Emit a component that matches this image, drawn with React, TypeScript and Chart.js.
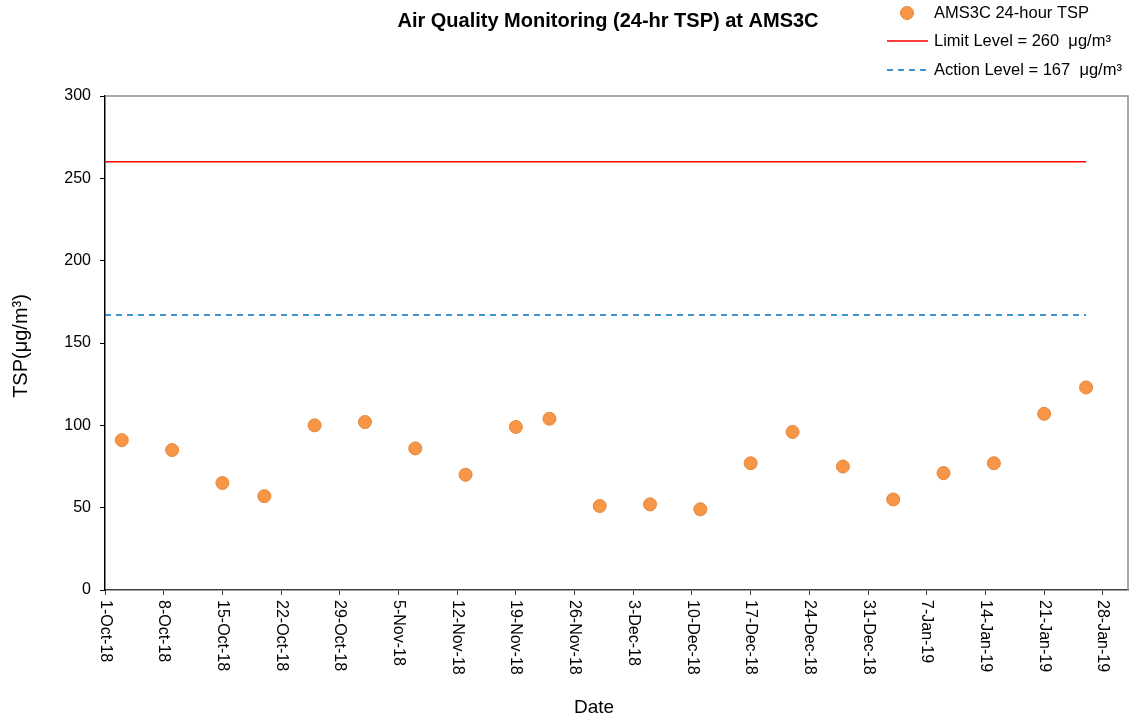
import React, { useEffect, useRef } from "react";
import { Chart, registerables } from "chart.js";

Chart.register(...registerables);

const chartTitle = "Air Quality Monitoring (24-hr TSP) at AMS3C";
const startDate = "2018-10-01";
const endDate = "2019-01-31";
const sampleDates = [
  "2018-10-03", "2018-10-09", "2018-10-15", "2018-10-20", "2018-10-26",
  "2018-11-01", "2018-11-07", "2018-11-13", "2018-11-19", "2018-11-23",
  "2018-11-29", "2018-12-05", "2018-12-11", "2018-12-17", "2018-12-22",
  "2018-12-28", "2019-01-03", "2019-01-09", "2019-01-15", "2019-01-21",
  "2019-01-26",
];
const tspValues = [91, 85, 65, 57, 100, 102, 86, 70, 99, 104, 51, 52, 49, 77, 96, 75, 55, 71, 77, 107, 123];
const tickDates = [
  "2018-10-01", "2018-10-08", "2018-10-15", "2018-10-22", "2018-10-29",
  "2018-11-05", "2018-11-12", "2018-11-19", "2018-11-26", "2018-12-03",
  "2018-12-10", "2018-12-17", "2018-12-24", "2018-12-31", "2019-01-07",
  "2019-01-14", "2019-01-21", "2019-01-28",
];
const tickLabels = [
  "1-Oct-18", "8-Oct-18", "15-Oct-18", "22-Oct-18", "29-Oct-18",
  "5-Nov-18", "12-Nov-18", "19-Nov-18", "26-Nov-18", "3-Dec-18",
  "10-Dec-18", "17-Dec-18", "24-Dec-18", "31-Dec-18", "7-Jan-19",
  "14-Jan-19", "21-Jan-19", "28-Jan-19",
];
const limitLevel = 260;
const actionLevel = 167;
const seriesLabels = ["AMS3C 24-hour TSP", "Limit Level = 260  μg/m³", "Action Level = 167  μg/m³"];

const dayOf = (s: string) => {
  const [y, m, d] = s.split("-").map(Number);
  const [y0, m0, d0] = startDate.split("-").map(Number);
  return Math.round((Date.UTC(y, m - 1, d) - Date.UTC(y0, m0 - 1, d0)) / 86400000);
};

const FONT = "Arial, 'Liberation Sans', sans-serif";

export default function App() {
  const ref = useRef<HTMLCanvasElement | null>(null);
  useEffect(() => {
    const canvas = ref.current!;
    const points = sampleDates.map((d, i) => ({ x: dayOf(d), y: tspValues[i] }));
    const lineStart = dayOf(startDate);
    const lineEnd = dayOf(sampleDates[sampleDates.length - 1]);
    const tickDays = tickDates.map(dayOf);

    const decor = {
      id: "decor",
      afterDraw(chart: any) {
        const ctx = chart.ctx as CanvasRenderingContext2D;
        const ca = chart.chartArea;
        const xs = chart.scales.x;
        ctx.save();
        // top and right border
        ctx.strokeStyle = "#8c8c8c";
        ctx.lineWidth = 1.5;
        ctx.beginPath();
        ctx.moveTo(ca.left, ca.top);
        ctx.lineTo(ca.right, ca.top);
        ctx.lineTo(ca.right, ca.bottom);
        ctx.stroke();
        // x tick labels rotated clockwise
        ctx.fillStyle = "#000";
        ctx.font = `16px ${FONT}`;
        ctx.textAlign = "left";
        ctx.textBaseline = "middle";
        tickDays.forEach((d, i) => {
          const px = xs.getPixelForValue(d);
          ctx.save();
          ctx.translate(px, ca.bottom + 10);
          ctx.rotate(Math.PI / 2);
          ctx.fillText(tickLabels[i], 0, 0);
          ctx.restore();
        });
        // axis titles
        ctx.font = `19px ${FONT}`;
        ctx.textAlign = "center";
        ctx.fillText("Date", 594, 708);
        ctx.save();
        ctx.translate(21, 346);
        ctx.rotate(-Math.PI / 2);
        ctx.font = `20px ${FONT}`;
        ctx.fillText("TSP(μg/m³)", 0, 0);
        ctx.restore();
        // title
        ctx.font = `bold 20px ${FONT}`;
        ctx.fillText(chartTitle, 608, 21);
        // legend
        ctx.font = `16.5px ${FONT}`;
        ctx.textAlign = "left";
        ctx.beginPath();
        ctx.arc(907, 13, 6.5, 0, Math.PI * 2);
        ctx.fillStyle = "#F79646";
        ctx.fill();
        ctx.strokeStyle = "#E5863A";
        ctx.lineWidth = 1;
        ctx.stroke();
        ctx.fillStyle = "#000";
        ctx.fillText(seriesLabels[0], 934, 13);
        ctx.strokeStyle = "#FF0000";
        ctx.lineWidth = 1.5;
        ctx.beginPath();
        ctx.moveTo(887, 41);
        ctx.lineTo(928, 41);
        ctx.stroke();
        ctx.fillText(seriesLabels[1], 934, 41);
        ctx.strokeStyle = "#0070C0";
        ctx.setLineDash([6, 5]);
        ctx.beginPath();
        ctx.moveTo(887, 70);
        ctx.lineTo(928, 70);
        ctx.stroke();
        ctx.setLineDash([]);
        ctx.fillText(seriesLabels[2], 934, 70);
        ctx.restore();
      },
    };

    const chart = new Chart(canvas, {
      type: "scatter",
      data: {
        datasets: [
          {
            label: seriesLabels[0],
            data: points,
            backgroundColor: "#F79646",
            borderColor: "#E5863A",
            borderWidth: 1,
            pointRadius: 6.5,
            order: 0,
          },
          {
            label: seriesLabels[1],
            type: "line",
            data: [{ x: lineStart, y: limitLevel }, { x: lineEnd, y: limitLevel }],
            borderColor: "#FF0000",
            borderWidth: 1.5,
            pointRadius: 0,
            fill: false,
            order: 1,
          } as any,
          {
            label: seriesLabels[2],
            type: "line",
            data: [{ x: lineStart, y: actionLevel }, { x: lineEnd, y: actionLevel }],
            borderColor: "#0070C0",
            borderWidth: 1.5,
            borderDash: [6, 5],
            pointRadius: 0,
            fill: false,
            order: 2,
          } as any,
        ],
      },
      options: {
        responsive: false,
        animation: false,
        layout: { autoPadding: false, padding: { top: 96, right: 3, left: 0, bottom: 0 } },
        plugins: { legend: { display: false }, title: { display: false }, tooltip: { enabled: false } },
        scales: {
          x: {
            type: "linear",
            min: dayOf(startDate),
            max: dayOf(endDate),
            afterBuildTicks: (scale: any) => {
              scale.ticks = tickDays.map((v) => ({ value: v }));
            },
            afterFit: (scale: any) => {
              scale.height = 134;
            },
            ticks: { display: false },
            grid: { drawOnChartArea: false, drawTicks: true, tickLength: 5, color: "#404040", lineWidth: 1 },
            border: { color: "#404040", width: 1.5 },
          },
          y: {
            min: 0,
            max: 300,
            afterFit: (scale: any) => {
              scale.width = 105;
            },
            ticks: { stepSize: 50, color: "#000", font: { size: 16, family: FONT }, padding: 9 },
            grid: { drawOnChartArea: false, drawTicks: true, tickLength: 5, color: "#000", lineWidth: 1 },
            border: { color: "#000", width: 1.5 },
          },
        },
      } as any,
      plugins: [decor],
    });
    return () => chart.destroy();
  }, []);
  return (
    <div style={{ position: "absolute", left: 0, top: 0, width: 1131, height: 724, background: "#fff" }}>
      <canvas ref={ref} width={1131} height={724} style={{ display: "block" }} />
    </div>
  );
}
